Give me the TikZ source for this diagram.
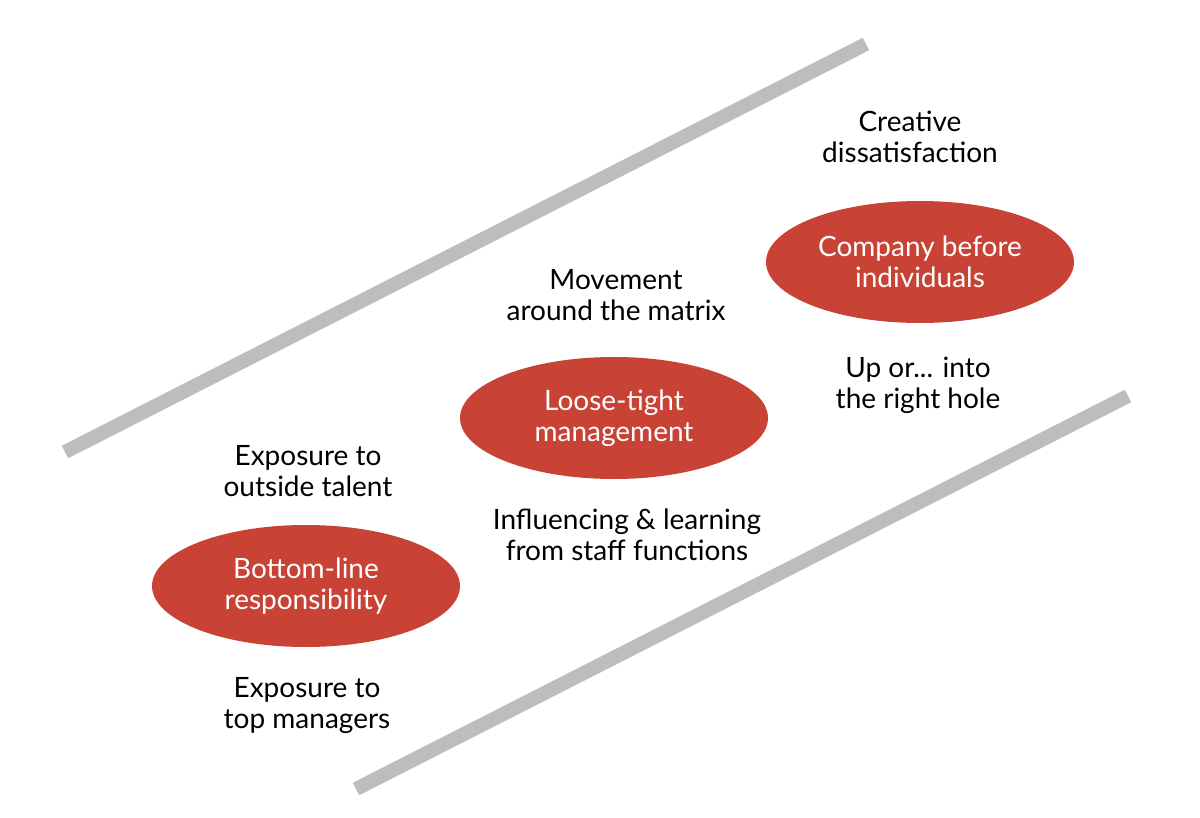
\documentclass[tikz,border=0pt]{standalone}
\usepackage{fontspec}
\setmainfont{Lato}
\usetikzlibrary{shapes.geometric}
\definecolor{bargray}{HTML}{BDBDBD}
\definecolor{ovalred}{HTML}{C84235}
\begin{document}
\begin{tikzpicture}[x=1pt,y=-1pt,
  bar/.style={draw=bargray,line width=14pt},
  oval/.style={ellipse,fill=ovalred,text=white,minimum width=308pt,minimum height=122pt,inner sep=0pt,align=center,font=\fontsize{28}{31}\selectfont},
  lbl/.style={inner sep=0pt,align=center,text=black,font=\fontsize{28}{31}\selectfont}]
\useasboundingbox[fill=white] (0,0) rectangle (1200,818);
\coordinate (u1) at (65,452);
\coordinate (u2) at (866,44);
\coordinate (l1) at (356,789);
\coordinate (l2) at (1128,396);
\draw[bar] (u1) -- (u2);
\draw[bar] (l1) -- (l2);
\node[oval] (bl) at (306,586) {Bottom-line\\responsibility};
\node[oval] (lt) at (614,418) {Loose-tight\\management};
\node[oval] (cb) at (920,262) {Company before\\individuals};
\node[lbl] (ot) at (308,471) {Exposure to\\outside talent};
\node[lbl] (tm) at (307,706) {Exposure to\\top managers};
\node[lbl] (mm) at (616,295) {Movement\\around the matrix};
\node[lbl] (cd) at (910,137) {Creative\\dissatisfaction};
\node[lbl] (ur) at (918,385) {Up or... into\\the right hole};
\node[lbl] (il) at (627,535) {Influencing \& learning\\from staff functions};
\end{tikzpicture}
\end{document}
